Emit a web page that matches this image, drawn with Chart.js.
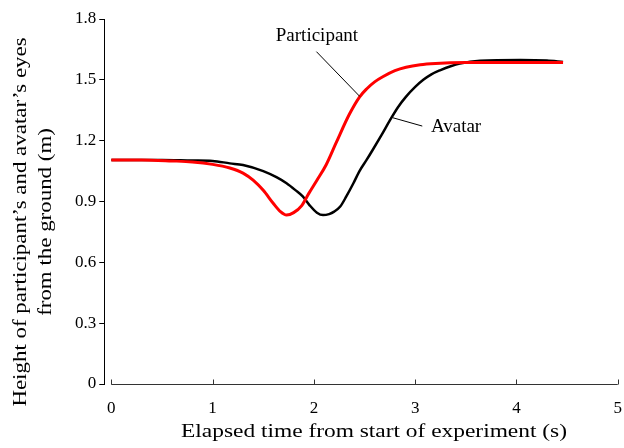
<!DOCTYPE html>
<html>
<head>
<meta charset="utf-8">
<script src="https://cdn.jsdelivr.net/npm/chart.js@4.4.1/dist/chart.umd.min.js"></script>
<style>
  html, body { margin: 0; padding: 0; background: #fff; overflow: hidden; }
  #wrap { width: 624px; height: 448px; }
  canvas { display: block; }
</style>
</head>
<body>
<div id="wrap"><canvas id="ch_eyes"></canvas></div>
<script>
// Participant (red) — elapsed time (s) and eye height (m)
const partTime   = [0, 0.3, 0.6, 0.8, 1.0, 1.17, 1.3, 1.4, 1.5, 1.6, 1.67, 1.73, 1.8, 1.88, 1.95, 2.03, 2.12, 2.22, 2.35, 2.45, 2.52, 2.6, 2.68, 2.8, 2.91, 3.05, 3.2, 3.5, 4.0, 4.46];
const partHeight = [1.105, 1.105, 1.1, 1.095, 1.083, 1.065, 1.04, 1.005, 0.955, 0.89, 0.85, 0.833, 0.845, 0.88, 0.94, 1.005, 1.08, 1.19, 1.33, 1.415, 1.455, 1.49, 1.515, 1.545, 1.562, 1.574, 1.58, 1.585, 1.586, 1.585];

// Avatar (black)
const avTime   = [0, 0.5, 0.8, 1.0, 1.17, 1.3, 1.5, 1.63, 1.73, 1.82, 1.89, 1.96, 2.03, 2.09, 2.15, 2.2, 2.26, 2.32, 2.39, 2.45, 2.52, 2.58, 2.67, 2.75, 2.83, 2.91, 3.0, 3.08, 3.16, 3.25, 3.35, 3.44, 3.64, 4.04, 4.3, 4.46];
const avHeight = [1.105, 1.105, 1.102, 1.1, 1.088, 1.08, 1.05, 1.02, 0.99, 0.955, 0.925, 0.88, 0.845, 0.833, 0.838, 0.85, 0.875, 0.925, 0.99, 1.05, 1.105, 1.154, 1.23, 1.30, 1.365, 1.417, 1.465, 1.5, 1.527, 1.548, 1.567, 1.58, 1.594, 1.598, 1.595, 1.588];

const xTicks = [0, 1, 2, 3, 4, 5];
const yTicks = [0, 0.3, 0.6, 0.9, 1.2, 1.5, 1.8];

const xTitle = 'Elapsed time from start of experiment (s)';
const yTitle = ['Height of participant\u2019s and avatar\u2019s eyes', 'from the ground (m)'];

// callout labels, in data units: text anchor + leader line
const callouts = [
  { text: 'Participant', at: [2.03, 1.716], line: [[2.025, 1.639], [2.453, 1.418]], align: 'center' },
  { text: 'Avatar',      at: [3.155, 1.267], line: [[2.78, 1.313], [3.07, 1.272]], align: 'left' }
];

const FONT = '"Liberation Serif", "Times New Roman", serif';

function toPts(xs, ys) { return xs.map((x, i) => ({ x, y: ys[i] })); }

/* x axis drawn starting at 0 with ticks pointing inwards, like the original */
const xAxisPlugin = {
  id: 'xAxisInward',
  afterDraw(chart) {
    const { ctx, chartArea, scales: { x } } = chart;
    const y0 = chartArea.bottom + 0.5;
    ctx.save();
    ctx.strokeStyle = '#333';
    ctx.lineWidth = 1;
    ctx.beginPath();
    ctx.moveTo(x.getPixelForValue(xTicks[0]), y0);
    ctx.lineTo(x.getPixelForValue(xTicks[xTicks.length - 1]), y0);
    xTicks.forEach(t => {
      const px = Math.round(x.getPixelForValue(t)) + 0.5;
      ctx.moveTo(px, y0);
      ctx.lineTo(px, y0 - 5);
    });
    ctx.stroke();
    ctx.restore();
  }
};

/* axis titles: the original sits off-centre and its type is a bit stretched */
const titlePlugin = {
  id: 'axisTitles',
  afterDraw(chart) {
    const { ctx } = chart;
    ctx.save();
    ctx.fillStyle = '#000';
    ctx.font = '19.5px ' + FONT;
    ctx.textAlign = 'center';
    ctx.textBaseline = 'alphabetic';

    ctx.save();
    ctx.translate(374, 436.5);
    ctx.scale(1.2, 1);
    ctx.fillText(xTitle, 0, 0);
    ctx.restore();

    [26, 50.5].forEach((bx, i) => {
      ctx.save();
      ctx.translate(bx, 222);
      ctx.rotate(-Math.PI / 2);
      ctx.scale(1.175, 1);
      ctx.fillText(yTitle[i], 0, 0);
      ctx.restore();
    });
    ctx.restore();
  }
};

const calloutPlugin = {
  id: 'callouts',
  afterDraw(chart) {
    const { ctx, scales: { x, y } } = chart;
    ctx.save();
    ctx.strokeStyle = '#000';
    ctx.lineWidth = 1;
    ctx.fillStyle = '#000';
    ctx.font = '19px ' + FONT;
    ctx.textBaseline = 'middle';
    callouts.forEach(c => {
      ctx.beginPath();
      ctx.moveTo(x.getPixelForValue(c.line[0][0]), y.getPixelForValue(c.line[0][1]));
      ctx.lineTo(x.getPixelForValue(c.line[1][0]), y.getPixelForValue(c.line[1][1]));
      ctx.stroke();
      ctx.textAlign = c.align;
      ctx.fillText(c.text, x.getPixelForValue(c.at[0]), y.getPixelForValue(c.at[1]));
    });
    ctx.restore();
  }
};

new Chart(document.getElementById('ch_eyes').getContext('2d'), {
  type: 'line',
  data: {
    datasets: [
      {
        label: 'Avatar',
        data: toPts(avTime, avHeight),
        borderColor: '#000',
        borderWidth: 2.5,
        pointRadius: 0,
        cubicInterpolationMode: 'monotone',
        fill: false,
        order: 2
      },
      {
        label: 'Participant',
        data: toPts(partTime, partHeight),
        borderColor: '#ff0000',
        borderWidth: 3,
        pointRadius: 0,
        cubicInterpolationMode: 'monotone',
        fill: false,
        order: 1
      }
    ]
  },
  options: {
    responsive: true,
    maintainAspectRatio: false,
    animation: false,
    layout: { padding: { top: 19, right: 0, left: 72, bottom: 27.6 } },
    plugins: {
      legend: { display: false },
      tooltip: { enabled: false }
    },
    scales: {
      x: {
        type: 'linear',
        min: -0.07, max: 5,
        afterBuildTicks: s => { s.ticks = xTicks.map(v => ({ value: v })); },
        grid: { display: false, drawTicks: true, tickLength: 12 },
        border: { display: false },
        ticks: { color: '#000', padding: 2, font: { family: FONT, size: 17 }, maxRotation: 0 },
        title: { display: false }
      },
      y: {
        type: 'linear',
        min: 0, max: 1.8,
        afterBuildTicks: s => { s.ticks = yTicks.map(v => ({ value: v })); },
        grid: { drawOnChartArea: false, drawTicks: true, tickLength: 5, color: '#000' },
        border: { display: true, color: '#000', width: 1 },
        ticks: { color: '#000', padding: 3, font: { family: FONT, size: 17 }, callback: v => String(v) },
        title: { display: false }
      }
    }
  },
  plugins: [xAxisPlugin, titlePlugin, calloutPlugin]
});
</script>
</body>
</html>
